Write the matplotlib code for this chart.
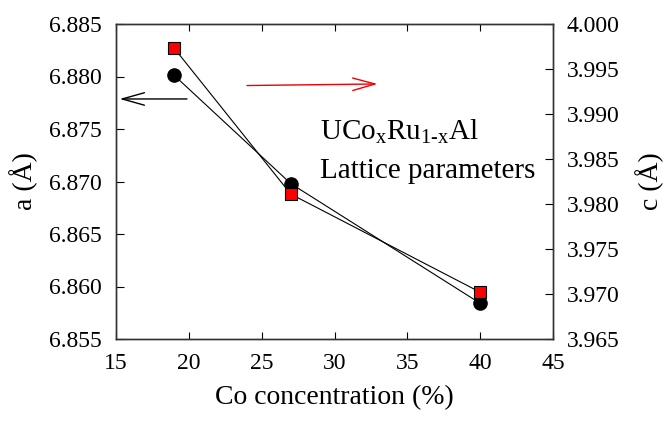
import matplotlib
matplotlib.use("Agg")
import matplotlib.pyplot as plt

plt.rcParams['font.family'] = ['Liberation Serif', 'DejaVu Serif']
plt.rcParams['mathtext.fontset'] = 'custom'
plt.rcParams['mathtext.rm'] = 'Liberation Serif'
plt.rcParams['mathtext.it'] = 'Liberation Serif:italic'

# Co concentration (%) and lattice parameters (Angstrom)
co_conc = [19, 27, 40]
a_param = [6.8801, 6.8698, 6.8584]
c_param = [3.9973, 3.9811, 3.9702]

x_ticks = [15, 20, 25, 30, 35, 40, 45]
a_ticks = [6.855, 6.860, 6.865, 6.870, 6.875, 6.880, 6.885]
c_ticks = [3.965, 3.970, 3.975, 3.980, 3.985, 3.990, 3.995, 4.000]

fig = plt.figure(figsize=(6.68, 4.22), dpi=100)
ax = fig.add_axes([116/668, 1-339/422, (553-116)/668, (339-24)/422])
ax2 = ax.twinx()

ax.plot(co_conc, a_param, color='black', lw=0.8, marker='o', ms=9.5,
        mfc='black', mec='black', zorder=3)
ax2.plot(co_conc, c_param, color='black', lw=0.8, marker='s', ms=8,
         mfc='#ff0000', mec='black', mew=0.8, zorder=3)

ax.set_xlim(15, 45)
ax.set_ylim(6.855, 6.885)
ax2.set_ylim(3.965, 4.000)
ax.set_xticks(x_ticks)
ax.set_xticklabels([str(v) for v in x_ticks])
ax.set_yticks(a_ticks)
ax.set_yticklabels([f"{v:.3f}" for v in a_ticks])
ax2.set_yticks(c_ticks)
ax2.set_yticklabels([f"{v:.3f}" for v in c_ticks])

ax.tick_params(axis='x', direction='in', length=5, width=0.8, top=True,
               labelsize=17, pad=10)
ax.tick_params(axis='y', direction='in', length=6, width=0.8, labelsize=17, pad=10)
ax2.tick_params(axis='y', direction='in', length=6, width=0.8, labelsize=17, pad=10)
for a_ in (ax, ax2):
    for s in a_.spines.values():
        s.set_linewidth(1.0)
        s.set_color('#333333')

ax.set_xlabel('Co concentration (%)', fontsize=20, labelpad=8)
ax.set_ylabel('a (Å)', fontsize=20, labelpad=8)
ax2.set_ylabel('c (Å)', fontsize=20, labelpad=11)

# direction arrows pointing to the relevant axis
arrow_style = '->,head_length=1.6,head_width=0.45'
ax.annotate('', xy=(15.25, 6.87786), xytext=(19.87, 6.87786),
            arrowprops=dict(arrowstyle=arrow_style, color='black', lw=1.0,
                            mutation_scale=10, shrinkA=0, shrinkB=0))
ax.annotate('', xy=(32.95, 6.87929), xytext=(23.99, 6.87914),
            arrowprops=dict(arrowstyle=arrow_style, color='#ee0000', lw=1.0,
                            mutation_scale=10, shrinkA=0, shrinkB=0))

ax.text(320/668, 1-140/422, r'UCo$_\mathrm{x}$Ru$_\mathrm{1\text{-}x}$Al',
        transform=fig.transFigure, fontsize=21, ha='left', va='baseline')
ax.text(320/668, 1-178/422, 'Lattice parameters',
        transform=fig.transFigure, fontsize=21, ha='left', va='baseline')

fig.savefig('out.png', dpi=100)
